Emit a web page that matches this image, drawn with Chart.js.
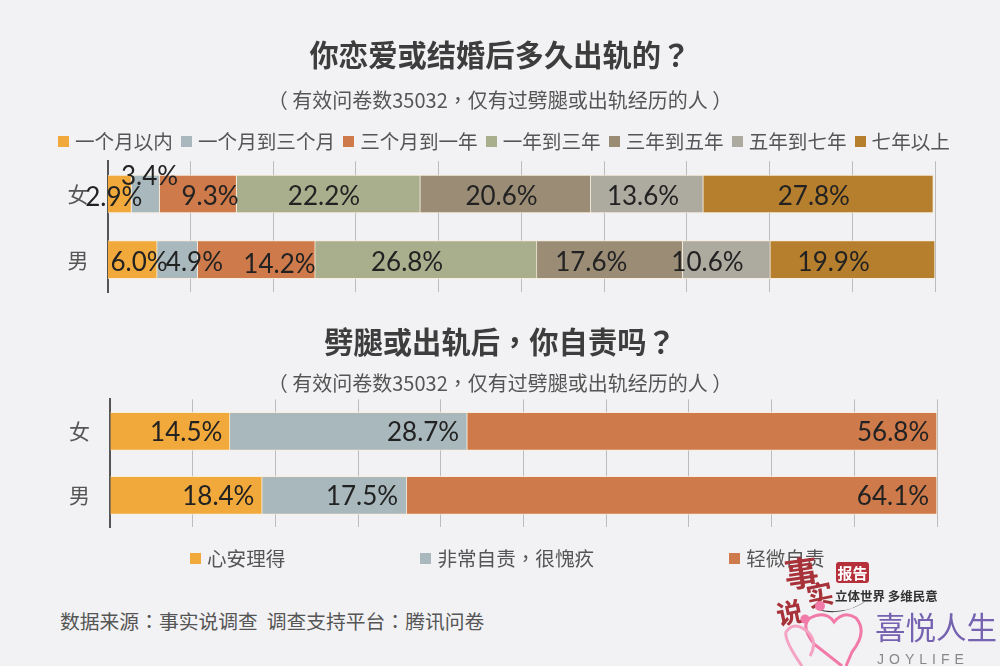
<!DOCTYPE html>
<html>
<head>
<meta charset="utf-8">
<script src="https://cdn.jsdelivr.net/npm/chart.js@4"></script>
<style>
  body { margin: 0; background: #f2f2f4; }
  #page { position: relative; width: 1000px; height: 666px; overflow: hidden; background: #f2f2f4; font-family: "Noto Sans CJK TC", sans-serif; }
  canvas { position: absolute; left: 0; }
  .txt { position: absolute; white-space: nowrap; line-height: 1; }
  .legend { position: absolute; display: flex; white-space: nowrap; font-size: 19.6px; line-height: 24px; color: #555; }
  .legend span { display: flex; align-items: center; }
  .legend i { width: 11px; height: 11px; margin-right: 6px; }
</style>
</head>
<body>
<div id="page">
  <canvas id="timeChart" width="1000" height="324" style="top:0"></canvas>
  <canvas id="guiltChart" width="1000" height="260" style="top:300px"></canvas>
  <div class="legend" id="timeLegend" style="left:58px;top:129px;gap:8px"></div>
  <div class="legend" id="guiltLegend" style="left:190px;top:546px;gap:135px"></div>

  <div class="txt" style="left:60px;top:611px;font-size:19.8px;color:#555">数据来源：事实说调查&nbsp;&nbsp;调查支持平台：腾讯问卷</div>

  <!-- logo in the corner -->
  <div class="txt" style="left:784px;top:547px;font:bold 34px 'Noto Sans CJK SC';color:#a8323a;transform:rotate(-8deg)">事</div>
  <div class="txt" style="left:806px;top:574px;font:bold 27px 'Noto Sans CJK SC';color:#a8323a;transform:rotate(-12deg)">实</div>
  <div class="txt" style="left:776px;top:592px;font:bold 27px 'Noto Sans CJK SC';color:#a8323a;transform:rotate(-12deg)">说</div>
  <div class="txt" style="left:836px;top:562px;width:33px;height:21px;background:#b5303a;border-radius:3px;color:#fff;font:bold 15px/21px 'Noto Sans CJK SC';text-align:center">报告</div>
  <div class="txt" style="left:835px;top:586px;font:bold 12.5px 'Noto Sans CJK SC';color:#333">立体世界 多维民意</div>
  <svg style="position:absolute;left:780px;top:590px" width="110" height="76" viewBox="0 0 110 76">
    <path d="M34 18 Q60 30 90 8 Q66 28 34 18Z" fill="#333"/>
    <circle cx="40" cy="16" r="5" fill="#f27aa8"/>
    <circle cx="25" cy="29" r="4.5" fill="#f27aa8"/>
    <path d="M62 76 L34 54 Q20 36 30 28 Q46 20 54 32 Q64 20 76 28 Q88 42 72 62 L66 76" fill="none" stroke="#f27aa8" stroke-width="3"/>
    <path d="M22 76 Q4 50 6 42 Q14 30 28 42 Q38 52 30 66" fill="none" stroke="#f4a3c2" stroke-width="3"/>
  </svg>
  <div class="txt" style="left:875px;top:611px;font-size:30.5px;color:#7562b0">喜悦人生</div>
  <div class="txt" style="left:877px;top:651px;font:14px 'Liberation Sans';letter-spacing:5px;color:#888">JOYLIFE</div>
</div>

<script>
// chart 1 - how long after the relationship started
var groups = ['女', '男'];
var timeNames = ['一个月以内', '一个月到三个月', '三个月到一年', '一年到三年', '三年到五年', '五年到七年', '七年以上'];
var timeFemale = [2.9, 3.4, 9.3, 22.2, 20.6, 13.6, 27.8];
var timeMale = [6.0, 4.9, 14.2, 26.8, 17.6, 10.6, 19.9];
var timeColors = ['#f2a93b', '#a9b8bd', '#ce7a4b', '#a9ae8d', '#9a8c75', '#adaa9f', '#b57f2e'];

// chart 2 - do you feel guilty
var guiltNames = ['心安理得', '非常自责，很愧疚', '轻微自责'];
var guiltFemale = [14.5, 28.7, 56.8];
var guiltMale = [18.4, 17.5, 64.1];
var guiltColors = ['#f2a93b', '#a9b8bd', '#ce7a4b'];

// how far each value label sits from the middle of its bar [x, y]
var timeNudgeFemale = [[-6, 4], [4, -17], [12, 3], [-4.5, 3], [-4, 3], [-4, 3], [-4.5, 3]];
var timeNudgeMale = [[6.5, 3], [17, 3], [23, 5], [-19, 3], [-18.5, 3], [-19, 3], [-19, 3]];
var guiltNudgeFemale = [[16, 1], [74.5, 1], [191, 1]];
var guiltNudgeMale = [[32, 1], [27.5, 1], [221, 1]];

// Chart.js has no value labels of its own so draw them here
var valueLabels = {
    id: 'valueLabels',
    afterDatasetsDraw: function (chart) {
        var ctx = chart.ctx;
        ctx.save();
        ctx.font = '26px Lato';
        ctx.fillStyle = '#222';
        ctx.textAlign = 'center';
        ctx.textBaseline = 'middle';
        chart.data.datasets.forEach(function (dataset, d) {
            chart.getDatasetMeta(d).data.forEach(function (bar, i) {
                var nudge = dataset.nudge[i];
                ctx.fillText(dataset.data[i].toFixed(1) + '%', (bar.x + bar.base) / 2 + nudge[0], bar.y + nudge[1]);
            });
        });
        ctx.restore();
    }
};

function buildDatasets(names, female, male, colors, nudgeF, nudgeM) {
    return names.map(function (name, i) {
        return {
            label: name,
            data: [female[i], male[i]],
            backgroundColor: colors[i],
            borderColor: 'rgba(250,235,215,0.8)',
            borderWidth: 1,
            barThickness: 38,
            nudge: [nudgeF[i], nudgeM[i]]
        };
    });
}

function buildOptions(o) {
    return {
        indexAxis: 'y',
        responsive: false,
        animation: false,
        scales: {
            x: {
                stacked: true,
                min: 0,
                max: 100,
                afterFit: function (scale) { scale.height = 0; },
                ticks: { display: false, stepSize: 10 },
                grid: { color: '#bcbcbc', drawTicks: false },
                border: { display: false }
            },
            y: {
                stacked: true,
                afterFit: function (scale) { scale.width = o.left; },
                ticks: { color: '#555', font: { size: 21, family: 'Noto Sans CJK SC' }, padding: o.tickPad },
                grid: { display: false, drawTicks: false },
                border: { display: true, color: '#555', width: 2 }
            },
            // empty axis, only keeps the space on the right without moving the titles
            y2: {
                type: 'linear',
                position: 'right',
                afterFit: function (scale) { scale.width = o.right; },
                ticks: { display: false },
                grid: { display: false, drawTicks: false },
                border: { display: false }
            }
        },
        plugins: {
            title: o.title,
            subtitle: o.subtitle,
            legend: { display: false },
            tooltip: { enabled: false }
        }
    };
}

function buildLegend(id, names, colors) {
    document.getElementById(id).innerHTML = names.map(function (name, i) {
        return '<span><i style="background:' + colors[i] + '"></i>' + name + '</span>';
    }).join('');
}

var font = 'Noto Sans CJK TC';
var subtitleText = '（ 有效问卷数35032，仅有过劈腿或出轨经历的人 ）';

new Chart(document.getElementById('timeChart'), {
    type: 'bar',
    data: { labels: groups, datasets: buildDatasets(timeNames, timeFemale, timeMale, timeColors, timeNudgeFemale, timeNudgeMale) },
    plugins: [valueLabels],
    options: buildOptions({
        left: 107.5, right: 65, tickPad: 19,
        title: { display: true, text: '你恋爱或结婚后多久出轨的？', color: '#3d3d3d', font: { size: 29.3, weight: 'bold', family: font }, padding: { top: 37, bottom: 16 } },
        subtitle: { display: true, text: subtitleText, color: '#555', font: { size: 20, family: font }, padding: { top: 0, bottom: 49 } }
    })
});

new Chart(document.getElementById('guiltChart'), {
    type: 'bar',
    data: { labels: groups, datasets: buildDatasets(guiltNames, guiltFemale, guiltMale, guiltColors, guiltNudgeFemale, guiltNudgeMale) },
    plugins: [valueLabels],
    options: buildOptions({
        left: 110, right: 63, tickPad: 20,
        title: { display: true, text: '劈腿或出轨后，你自责吗？', color: '#3d3d3d', font: { size: 29.3, weight: 'bold', family: font }, padding: { top: 24.6, bottom: 11.6 } },
        subtitle: { display: true, text: subtitleText, color: '#555', font: { size: 20, family: font }, padding: { top: 0, bottom: 4 } }
    })
});

buildLegend('timeLegend', timeNames, timeColors);
buildLegend('guiltLegend', guiltNames, guiltColors);
</script>
</body>
</html>
